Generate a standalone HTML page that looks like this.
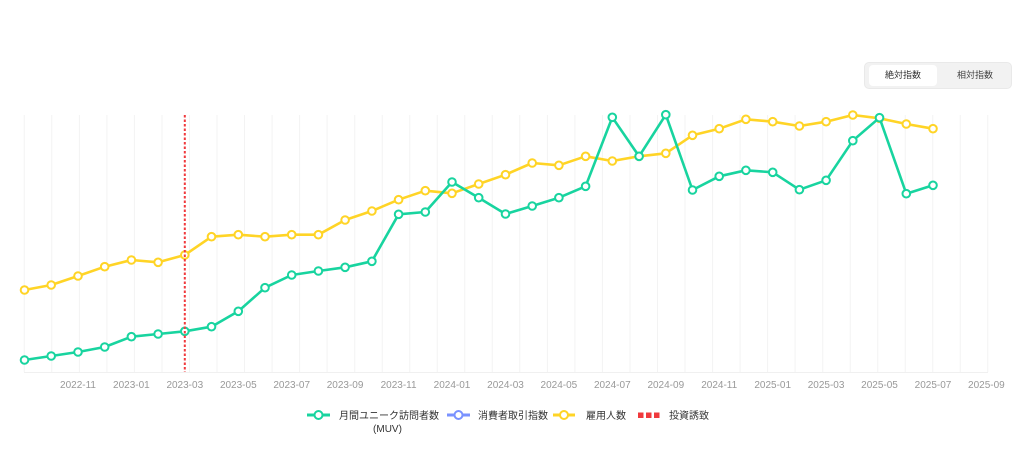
<!DOCTYPE html>
<html><head><meta charset="utf-8">
<style>
html,body{margin:0;padding:0;background:#fff;}
body{width:1024px;height:468px;overflow:hidden;position:relative;font-family:"Liberation Sans","Noto Sans CJK JP",sans-serif;}
.tog{position:absolute;left:864px;top:62px;width:148px;height:27px;background:#f2f2f2;border:1px solid #e9e9e9;border-radius:5px;box-sizing:border-box;}
.tog .a{position:absolute;left:4px;top:2px;width:68px;height:21px;background:#fff;border-radius:4px;font-size:9px;color:#333;text-align:center;line-height:21px;}
.tog .b{position:absolute;left:76px;top:2px;width:68px;height:21px;font-size:9px;color:#444;text-align:center;line-height:21px;}
svg{position:absolute;left:0;top:0;}
</style></head><body>
<div class="tog"><div class="a">絶対指数</div><div class="b">相対指数</div></div>
<svg width="1024" height="468" viewBox="0 0 1024 468" xmlns="http://www.w3.org/2000/svg" font-family="Liberation Sans, Noto Sans CJK JP, sans-serif">
<g stroke="#f3f3f3" stroke-width="1">
<line x1="24.3" y1="115" x2="24.3" y2="372"/><line x1="51.8" y1="115" x2="51.8" y2="372"/><line x1="79.4" y1="115" x2="79.4" y2="372"/><line x1="106.9" y1="115" x2="106.9" y2="372"/><line x1="134.4" y1="115" x2="134.4" y2="372"/><line x1="162" y1="115" x2="162" y2="372"/><line x1="189.5" y1="115" x2="189.5" y2="372"/><line x1="217" y1="115" x2="217" y2="372"/><line x1="244.5" y1="115" x2="244.5" y2="372"/><line x1="272.1" y1="115" x2="272.1" y2="372"/><line x1="299.6" y1="115" x2="299.6" y2="372"/><line x1="327.1" y1="115" x2="327.1" y2="372"/><line x1="354.7" y1="115" x2="354.7" y2="372"/><line x1="382.2" y1="115" x2="382.2" y2="372"/><line x1="409.7" y1="115" x2="409.7" y2="372"/><line x1="437.3" y1="115" x2="437.3" y2="372"/><line x1="464.8" y1="115" x2="464.8" y2="372"/><line x1="492.3" y1="115" x2="492.3" y2="372"/><line x1="519.8" y1="115" x2="519.8" y2="372"/><line x1="547.4" y1="115" x2="547.4" y2="372"/><line x1="574.9" y1="115" x2="574.9" y2="372"/><line x1="602.4" y1="115" x2="602.4" y2="372"/><line x1="630" y1="115" x2="630" y2="372"/><line x1="657.5" y1="115" x2="657.5" y2="372"/><line x1="685" y1="115" x2="685" y2="372"/><line x1="712.6" y1="115" x2="712.6" y2="372"/><line x1="740.1" y1="115" x2="740.1" y2="372"/><line x1="767.6" y1="115" x2="767.6" y2="372"/><line x1="795.1" y1="115" x2="795.1" y2="372"/><line x1="822.7" y1="115" x2="822.7" y2="372"/><line x1="850.2" y1="115" x2="850.2" y2="372"/><line x1="877.7" y1="115" x2="877.7" y2="372"/><line x1="905.3" y1="115" x2="905.3" y2="372"/><line x1="932.8" y1="115" x2="932.8" y2="372"/><line x1="960.3" y1="115" x2="960.3" y2="372"/><line x1="987.8" y1="115" x2="987.8" y2="372"/>
</g>
<line x1="24" y1="372.5" x2="988" y2="372.5" stroke="#f0f0f0" stroke-width="1"/>
<g font-size="10" fill="#999" text-anchor="middle">
<text x="78" y="388">2022-11</text><text x="131.4" y="388">2023-01</text><text x="184.8" y="388">2023-03</text><text x="238.3" y="388">2023-05</text><text x="291.7" y="388">2023-07</text><text x="345.1" y="388">2023-09</text><text x="398.6" y="388">2023-11</text><text x="452" y="388">2024-01</text><text x="505.5" y="388">2024-03</text><text x="558.9" y="388">2024-05</text><text x="612.3" y="388">2024-07</text><text x="665.8" y="388">2024-09</text><text x="719.2" y="388">2024-11</text><text x="772.7" y="388">2025-01</text><text x="826.1" y="388">2025-03</text><text x="879.5" y="388">2025-05</text><text x="933" y="388">2025-07</text><text x="986.4" y="388">2025-09</text>
</g>
<polyline fill="none" stroke="#ffd426" stroke-width="2.6" stroke-linejoin="round" points="24.5,290 51.2,285 78,276 104.7,266.7 131.4,260 158.1,262.3 184.8,255 211.5,236.7 238.3,234.7 265,236.7 291.7,234.7 318.4,234.7 345.1,220 371.9,211 398.6,199.7 425.3,190.7 452,193.3 478.7,184 505.5,174.7 532.2,163 558.9,165.3 585.6,156.3 612.3,161 639.1,156.3 665.8,153.3 692.5,135.3 719.2,128.7 745.9,119.3 772.7,121.7 799.4,126 826.1,121.7 852.8,115 879.5,118.3 906.3,124 933,128.7"/>
<g fill="#fff" stroke="#ffd426" stroke-width="2">
<circle cx="24.5" cy="290" r="3.8"/><circle cx="51.2" cy="285" r="3.8"/><circle cx="78" cy="276" r="3.8"/><circle cx="104.7" cy="266.7" r="3.8"/><circle cx="131.4" cy="260" r="3.8"/><circle cx="158.1" cy="262.3" r="3.8"/><circle cx="184.8" cy="255" r="3.8"/><circle cx="211.5" cy="236.7" r="3.8"/><circle cx="238.3" cy="234.7" r="3.8"/><circle cx="265" cy="236.7" r="3.8"/><circle cx="291.7" cy="234.7" r="3.8"/><circle cx="318.4" cy="234.7" r="3.8"/><circle cx="345.1" cy="220" r="3.8"/><circle cx="371.9" cy="211" r="3.8"/><circle cx="398.6" cy="199.7" r="3.8"/><circle cx="425.3" cy="190.7" r="3.8"/><circle cx="452" cy="193.3" r="3.8"/><circle cx="478.7" cy="184" r="3.8"/><circle cx="505.5" cy="174.7" r="3.8"/><circle cx="532.2" cy="163" r="3.8"/><circle cx="558.9" cy="165.3" r="3.8"/><circle cx="585.6" cy="156.3" r="3.8"/><circle cx="612.3" cy="161" r="3.8"/><circle cx="639.1" cy="156.3" r="3.8"/><circle cx="665.8" cy="153.3" r="3.8"/><circle cx="692.5" cy="135.3" r="3.8"/><circle cx="719.2" cy="128.7" r="3.8"/><circle cx="745.9" cy="119.3" r="3.8"/><circle cx="772.7" cy="121.7" r="3.8"/><circle cx="799.4" cy="126" r="3.8"/><circle cx="826.1" cy="121.7" r="3.8"/><circle cx="852.8" cy="115" r="3.8"/><circle cx="879.5" cy="118.3" r="3.8"/><circle cx="906.3" cy="124" r="3.8"/><circle cx="933" cy="128.7" r="3.8"/>
</g>
<polyline fill="none" stroke="#18d49f" stroke-width="2.6" stroke-linejoin="round" points="24.5,360 51.2,356 78,352 104.7,347 131.4,336.7 158.1,334 184.8,331.3 211.5,326.7 238.3,311.3 265,287.7 291.7,275 318.4,271 345.1,267.3 371.9,261.3 398.6,214.3 425.3,212 452,182 478.7,197.7 505.5,214 532.2,206 558.9,197.7 585.6,186.3 612.3,117.3 639.1,156.3 665.8,114.7 692.5,190 719.2,176.3 745.9,170.3 772.7,172.3 799.4,189.7 826.1,180.3 852.8,140.7 879.5,117.7 906.3,193.7 933,185.3"/>
<g fill="#fff" stroke="#18d49f" stroke-width="2">
<circle cx="24.5" cy="360" r="3.8"/><circle cx="51.2" cy="356" r="3.8"/><circle cx="78" cy="352" r="3.8"/><circle cx="104.7" cy="347" r="3.8"/><circle cx="131.4" cy="336.7" r="3.8"/><circle cx="158.1" cy="334" r="3.8"/><circle cx="184.8" cy="331.3" r="3.8"/><circle cx="211.5" cy="326.7" r="3.8"/><circle cx="238.3" cy="311.3" r="3.8"/><circle cx="265" cy="287.7" r="3.8"/><circle cx="291.7" cy="275" r="3.8"/><circle cx="318.4" cy="271" r="3.8"/><circle cx="345.1" cy="267.3" r="3.8"/><circle cx="371.9" cy="261.3" r="3.8"/><circle cx="398.6" cy="214.3" r="3.8"/><circle cx="425.3" cy="212" r="3.8"/><circle cx="452" cy="182" r="3.8"/><circle cx="478.7" cy="197.7" r="3.8"/><circle cx="505.5" cy="214" r="3.8"/><circle cx="532.2" cy="206" r="3.8"/><circle cx="558.9" cy="197.7" r="3.8"/><circle cx="585.6" cy="186.3" r="3.8"/><circle cx="612.3" cy="117.3" r="3.8"/><circle cx="639.1" cy="156.3" r="3.8"/><circle cx="665.8" cy="114.7" r="3.8"/><circle cx="692.5" cy="190" r="3.8"/><circle cx="719.2" cy="176.3" r="3.8"/><circle cx="745.9" cy="170.3" r="3.8"/><circle cx="772.7" cy="172.3" r="3.8"/><circle cx="799.4" cy="189.7" r="3.8"/><circle cx="826.1" cy="180.3" r="3.8"/><circle cx="852.8" cy="140.7" r="3.8"/><circle cx="879.5" cy="117.7" r="3.8"/><circle cx="906.3" cy="193.7" r="3.8"/><circle cx="933" cy="185.3" r="3.8"/>
</g>
<line x1="184.8" y1="115" x2="184.8" y2="372" stroke="#f0393c" stroke-width="2" stroke-dasharray="2.5,2"/>
<!-- legend -->
<line x1="307" y1="415" x2="330" y2="415" stroke="#18d49f" stroke-width="3"/>
<circle cx="318.5" cy="415" r="4" fill="#fff" stroke="#18d49f" stroke-width="2"/>
<text x="339" y="419" font-size="10" fill="#333">月間ユニーク訪問者数</text>
<text x="387.5" y="432" font-size="10" fill="#333" text-anchor="middle">(MUV)</text>
<line x1="447" y1="415" x2="470" y2="415" stroke="#7a92ff" stroke-width="3"/>
<circle cx="458.5" cy="415" r="4" fill="#fff" stroke="#7a92ff" stroke-width="2"/>
<text x="478" y="419" font-size="10" fill="#333">消費者取引指数</text>
<line x1="553" y1="415" x2="575" y2="415" stroke="#ffd426" stroke-width="3"/>
<circle cx="564" cy="415" r="4" fill="#fff" stroke="#ffd426" stroke-width="2"/>
<text x="586" y="419" font-size="10" fill="#333">雇用人数</text>
<rect x="638" y="412.5" width="5.5" height="5.5" fill="#f0393c"/>
<rect x="646" y="412.5" width="5.5" height="5.5" fill="#f0393c"/>
<rect x="654" y="412.5" width="5.5" height="5.5" fill="#f0393c"/>
<text x="669" y="419" font-size="10" fill="#333">投資誘致</text>
</svg>
</body></html>
